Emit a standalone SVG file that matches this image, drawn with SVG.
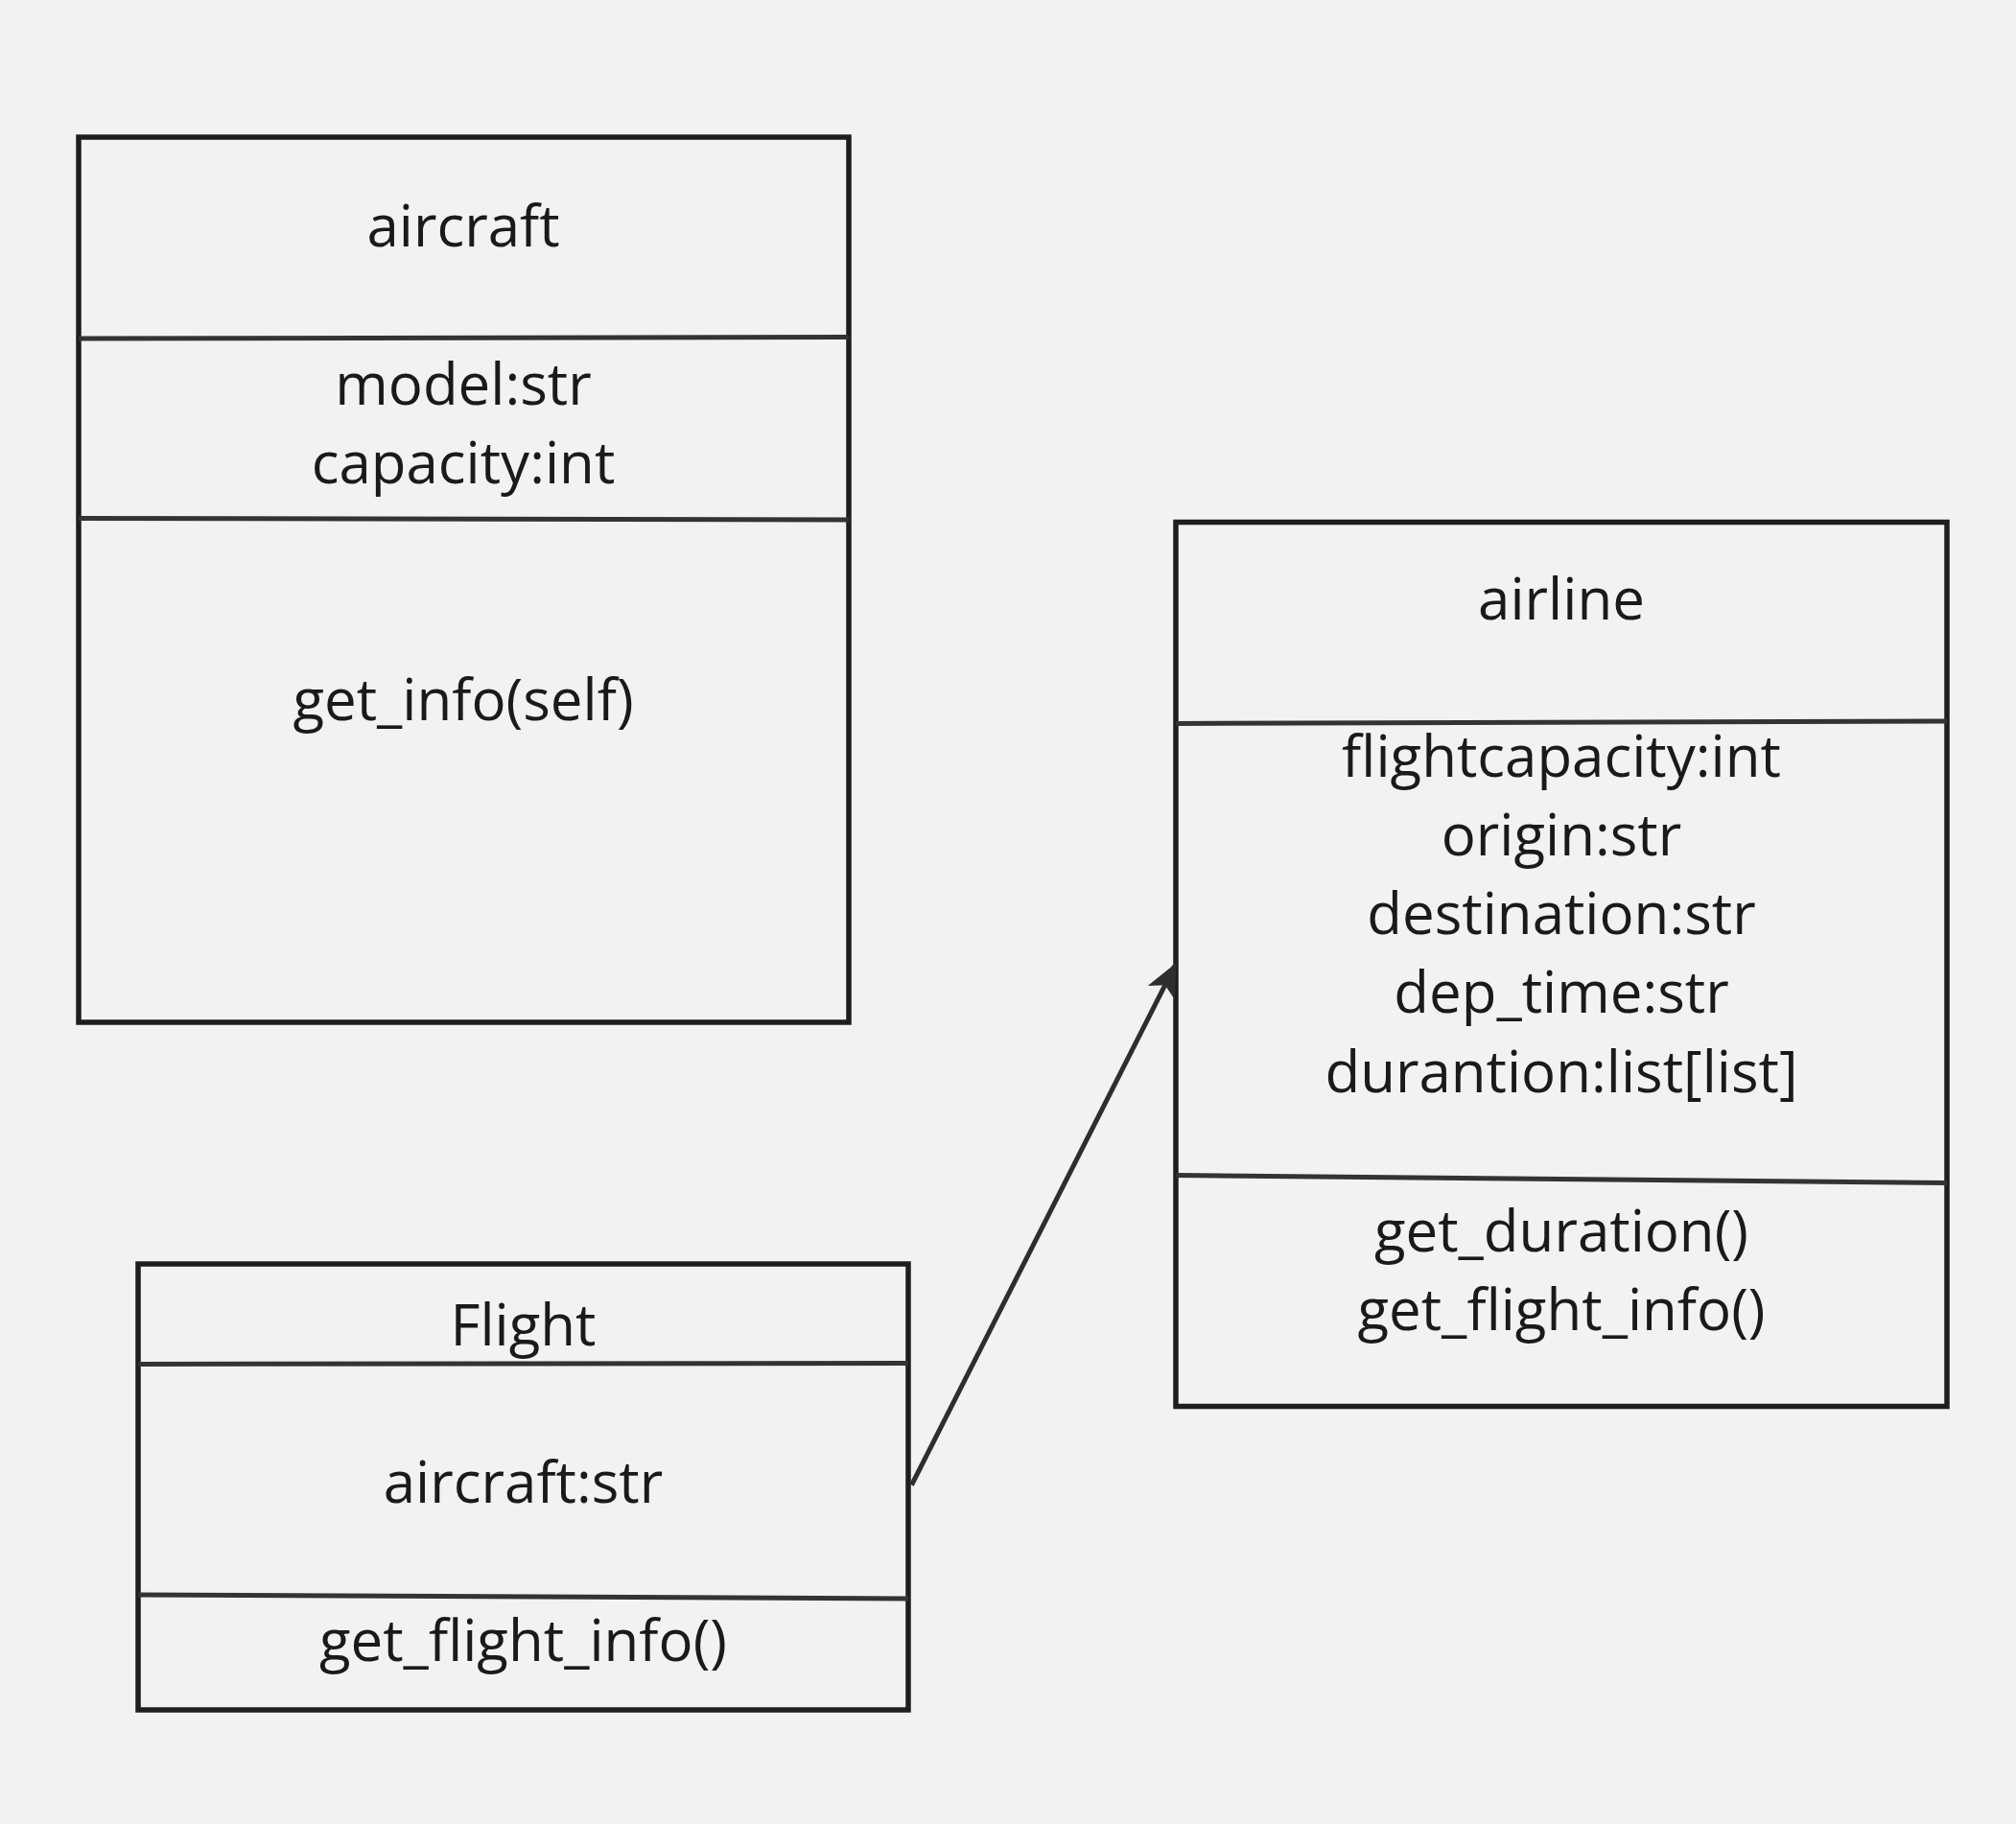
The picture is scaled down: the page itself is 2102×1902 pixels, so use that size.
<svg xmlns="http://www.w3.org/2000/svg" width="2102" height="1902" viewBox="0 0 2102 1902">
<defs>
<style>
.box{fill:none;stroke:#1e1e1e;stroke-width:5.5}
.div{fill:none;stroke:#333333;stroke-width:5}
.t{font-family:"Open Sans","Noto Sans","Liberation Sans",sans-serif;font-size:60px;fill:#1a1a1a;text-anchor:middle}
.conn{fill:none;stroke:#2e2e2e;stroke-width:5}
</style>
<marker id="arrow" viewBox="0 0 10 10" refX="9" refY="5" markerWidth="7" markerHeight="7" markerUnits="strokeWidth" orient="auto">
<path d="M0,0.5 L10,5 L0,9.5 L2.5,5 Z" fill="#2e2e2e"/>
</marker>
</defs>
<rect width="2102" height="1902" fill="#f2f2f2"/>
<g id="aircraft">
<rect class="box" x="82" y="143" width="803" height="923"/>
<line class="div" x1="82" y1="353" x2="885" y2="351.5"/>
<line class="div" x1="82" y1="540.5" x2="885" y2="542"/>
<text class="t" x="483" y="257">aircraft</text>
<text class="t" x="483" y="422">model:str</text>
<text class="t" x="483" y="504">capacity:int</text>
<text class="t" x="483" y="751">get_info(self)</text>
</g>
<g id="flight">
<rect class="box" x="144" y="1318" width="803" height="465"/>
<line class="div" x1="144" y1="1422.5" x2="947" y2="1421.5"/>
<line class="div" x1="144" y1="1663" x2="947" y2="1667"/>
<text class="t" x="545.5" y="1403">Flight</text>
<text class="t" x="545.5" y="1567">aircraft:str</text>
<text class="t" x="545.5" y="1732">get_flight_info()</text>
</g>
<g id="airline">
<rect class="box" x="1226" y="544.5" width="804" height="922"/>
<line class="div" x1="1226" y1="754.5" x2="2030" y2="752"/>
<line class="div" x1="1226" y1="1225.5" x2="2030" y2="1233.5"/>
<text class="t" x="1628" y="646">airline</text>
<text class="t" x="1628" y="810">flightcapacity:int</text>
<text class="t" x="1628" y="892">origin:str</text>
<text class="t" x="1628" y="974">destination:str</text>
<text class="t" x="1628" y="1056">dep_time:str</text>
<text class="t" x="1628" y="1139">durantion:list[list]</text>
<text class="t" x="1628" y="1305">get_duration()</text>
<text class="t" x="1628" y="1387">get_flight_info()</text>
</g>
<g id="connectors">
<line class="conn" x1="950.5" y1="1548.5" x2="1225" y2="1007" marker-end="url(#arrow)"/>
</g>
</svg>
